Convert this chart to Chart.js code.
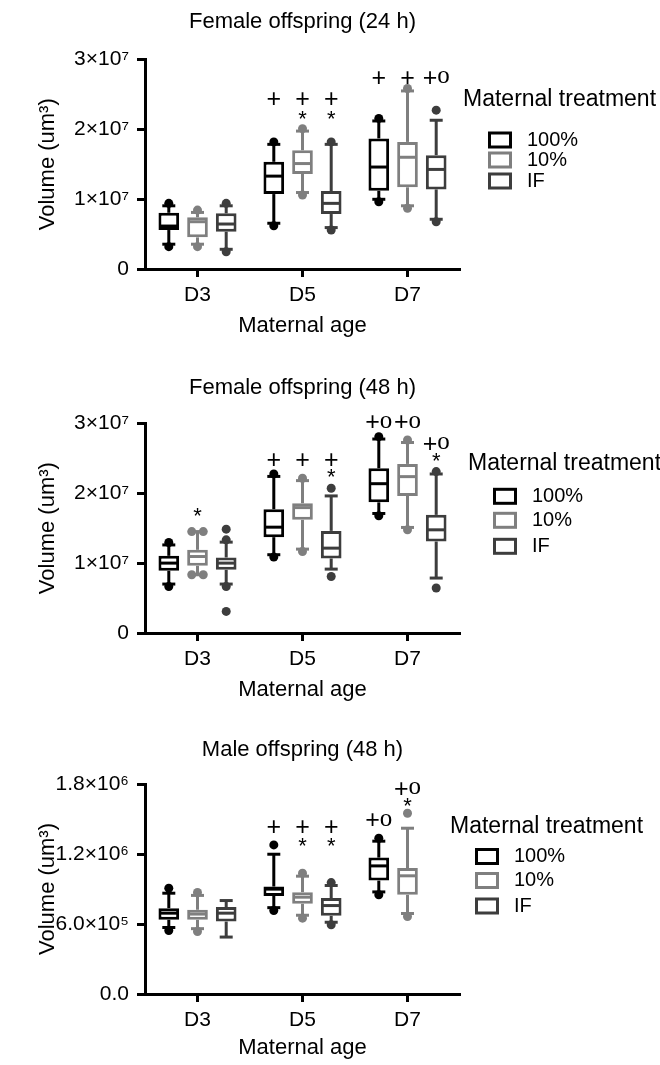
<!DOCTYPE html>
<html><head><meta charset="utf-8">
<script src="https://cdn.jsdelivr.net/npm/chart.js@4.4.1/dist/chart.umd.min.js"></script>
<style>
html,body{margin:0;padding:0;background:#fff;width:660px;height:1065px;overflow:hidden;position:relative;}
canvas{position:absolute;left:0;}
</style></head><body>
<canvas id="c1" width="660" height="341" style="top:0px"></canvas>
<canvas id="c2" width="660" height="345" style="top:360px"></canvas>
<canvas id="c3" width="660" height="346" style="top:720px"></canvas>
<script>
// ---------- DATA ----------
const categories = ['D3', 'D5', 'D7'];
const seriesNames = ['100%', '10%', 'IF'];
const legendTitle = 'Maternal treatment';
const xTitle = 'Maternal age';
const yTitle = 'Volume (um³)';
const chartTitles = ['Female offspring (24 h)', 'Female offspring (48 h)', 'Male offspring (48 h)'];

const yTicks1 = ['0', '1×10⁷', '2×10⁷', '3×10⁷'];
const yTicks2 = ['0', '1×10⁷', '2×10⁷', '3×10⁷'];
const yTicks3 = ['0.0', '6.0×10⁵', '1.2×10⁶', '1.8×10⁶'];

// box = [whisker low, Q1, median, Q3, whisker high] per category
// Female 24 h
const f24_100 = [[0.355e7,0.558e7,0.615e7,0.805e7,0.905e7],[0.655e7,1.073e7,1.33e7,1.535e7,1.785e7],[0.998e7,1.12e7,1.46e7,1.87e7,2.12e7]];
const f24_10  = [[0.355e7,0.453e7,0.677e7,0.74e7,0.81e7],[1.095e7,1.36e7,1.51e7,1.70e7,1.975e7],[0.905e7,1.17e7,1.60e7,1.82e7,2.55e7]];
const f24_IF  = [[0.282e7,0.534e7,0.644e7,0.797e7,0.905e7],[0.593e7,0.787e7,0.94e7,1.116e7,1.785e7],[0.712e7,1.14e7,1.426e7,1.63e7,2.13e7]];
const f24_100_pts = [[0.94e7,0.32e7],[1.82e7,0.62e7],[2.156e7,0.963e7]];
const f24_10_pts  = [[0.844e7,0.32e7],[2.01e7,1.06e7],[2.585e7,0.87e7]];
const f24_IF_pts  = [[0.94e7,0.247e7],[1.82e7,0.558e7],[2.275e7,0.677e7]];
const f24_100_marks = [[],[['+',2.446e7]],[['+',2.747e7]]];
const f24_10_marks  = [[],[['+',2.446e7],['*',2.203e7]],[['+',2.747e7]]];
const f24_IF_marks  = [[],[['+',2.446e7],['*',2.203e7]],[['+o',2.747e7]]];

// Female 48 h
const f48_100 = [[0.70e7,0.89e7,1.0e7,1.104e7,1.26e7],[1.12e7,1.371e7,1.514e7,1.771e7,2.24e7],[1.71e7,1.869e7,2.136e7,2.357e7,2.775e7]];
const f48_10  = [[0.833e7,0.961e7,1.094e7,1.19e7,1.451e7],[1.20e7,1.619e7,1.794e7,1.857e7,2.18e7],[1.51e7,1.961e7,2.237e7,2.419e7,2.725e7]];
const f48_IF  = [[0.70e7,0.904e7,1.0e7,1.08e7,1.30e7],[0.914e7,1.066e7,1.214e7,1.461e7,1.961e7],[0.786e7,1.309e7,1.476e7,1.69e7,2.275e7]];
const f48_100_pts = [[1.294e7,0.666e7],[2.276e7,1.086e7],[2.809e7,1.676e7]];
const f48_10_pts  = [[1.451e7,1.451e7,0.833e7,0.833e7],[2.214e7,1.166e7],[2.761e7,1.476e7]];
const f48_IF_pts  = [[1.486e7,1.333e7,0.666e7,0.309e7],[2.071e7,0.809e7],[2.309e7,0.643e7]];
const f48_100_marks = [[],[['+',2.486e7]],[['+o',3.023e7]]];
const f48_10_marks  = [[['*',1.737e7]],[['+',2.486e7]],[['+o',3.023e7]]];
const f48_IF_marks  = [[],[['+',2.486e7],['*',2.294e7]],[['+o',2.714e7],['*',2.523e7]]];

// Male 48 h
const m48_100 = [[5.70e5,6.36e5,6.93e5,7.36e5,8.64e5],[7.40e5,8.41e5,8.99e5,9.21e5,11.98e5],[8.75e5,9.72e5,10.98e5,11.69e5,13.10e5]];
const m48_10  = [[5.60e5,6.36e5,6.85e5,7.22e5,8.45e5],[6.75e5,7.73e5,8.30e5,8.73e5,10.10e5],[6.90e5,8.50e5,10.13e5,10.79e5,14.21e5]];
const m48_IF  = [[4.88e5,6.21e5,6.93e5,7.45e5,8.01e5],[6.15e5,6.70e5,7.58e5,8.22e5,9.30e5],null];
const m48_100_pts = [[9.07e5,5.44e5],[12.78e5,7.16e5],[13.35e5,8.50e5]];
const m48_10_pts  = [[8.70e5,5.36e5],[10.36e5,6.50e5],[15.49e5,6.64e5]];
const m48_IF_pts  = [[],[9.55e5,5.93e5],[]];
const m48_100_marks = [[],[['+',14.35e5]],[['+o',14.92e5]]];
const m48_10_marks  = [[],[['+',14.35e5],['*',13.06e5]],[['+o',17.63e5],['*',16.49e5]]];
const m48_IF_marks  = [[],[['+',14.35e5],['*',13.06e5]],[]];

// ---------- STYLE ----------
const colors = ['#000000', '#7f7f7f', '#3d3d3d'];
const SANS = "'Liberation Sans', Arial, Helvetica, sans-serif";
const SERIF = "'Liberation Serif', 'Times New Roman', serif";
Chart.defaults.font.family = SANS;
Chart.defaults.color = '#000';

function px(ctx, x1, y1, x2, y2) { ctx.beginPath(); ctx.moveTo(x1, y1); ctx.lineTo(x2, y2); ctx.stroke(); }

function drawMark(ctx, text, cx, cy) {
  const parts = [...text].map(ch => ({ ch, font: ch === 'o' ? '25px ' + SERIF : (ch === '+' ? '25px ' : '22px ') + SANS }));
  let total = 0;
  parts.forEach(p => { ctx.font = p.font; p.m = ctx.measureText(p.ch); total += p.m.width; });
  let x = cx - total / 2;
  ctx.textAlign = 'left'; ctx.textBaseline = 'alphabetic'; ctx.fillStyle = '#000';
  parts.forEach(p => {
    ctx.font = p.font;
    const base = cy + (p.m.actualBoundingBoxAscent - p.m.actualBoundingBoxDescent) / 2;
    ctx.fillText(p.ch, x, base);
    x += p.m.width;
  });
}

const boxPlugin = {
  id: 'boxExtras',
  afterDatasetsDraw(chart) {
    const ctx = chart.ctx, ys = chart.scales.y;
    chart.data.datasets.forEach((ds, di) => {
      const meta = chart.getDatasetMeta(di);
      meta.data.forEach((el, i) => {
        const b = ds.boxes[i];
        if (!b) return;
        const x = el.x, w = el.width;
        const yLo = ys.getPixelForValue(b[0]), yQ1 = ys.getPixelForValue(b[1]), yMed = ys.getPixelForValue(b[2]),
              yQ3 = ys.getPixelForValue(b[3]), yHi = ys.getPixelForValue(b[4]);
        ctx.save();
        ctx.strokeStyle = ds.borderColor; ctx.fillStyle = ds.borderColor; ctx.lineWidth = 3; ctx.lineCap = 'butt';
        px(ctx, x, yQ3, x, yHi);
        px(ctx, x, yQ1, x, yLo);
        px(ctx, x - 6.5, yHi, x + 6.5, yHi);
        px(ctx, x - 6.5, yLo, x + 6.5, yLo);
        px(ctx, x - w / 2 + 1.5, yMed, x + w / 2 - 1.5, yMed);
        // tied values are spread side by side, as in the original
        const pts = ds.points[i] || [];
        const counts = {};
        pts.forEach(v => { counts[v] = (counts[v] || 0) + 1; });
        const seen = {};
        pts.forEach(v => {
          const n = counts[v], k = (seen[v] = (seen[v] || 0) + 1) - 1;
          const dx = n > 1 ? (k - (n - 1) / 2) * 11.5 : 0;
          ctx.beginPath(); ctx.arc(x + dx, ys.getPixelForValue(v), 4.5, 0, Math.PI * 2); ctx.fill();
        });
        ctx.restore();
      });
    });
  },
  afterDraw(chart, args, opts) {
    const ctx = chart.ctx, ys = chart.scales.y, top = chart.chartArea.top;
    ctx.save();
    chart.data.datasets.forEach((ds, di) => {
      const meta = chart.getDatasetMeta(di);
      meta.data.forEach((el, i) => {
        (ds.marks[i] || []).forEach(m => drawMark(ctx, m[0], el.x, ys.getPixelForValue(m[1])));
      });
    });
    // legend
    ctx.fillStyle = '#000'; ctx.textAlign = 'left'; ctx.textBaseline = 'middle';
    ctx.font = '23px ' + SANS;
    ctx.fillText(legendTitle, opts.x, top + opts.titleDy);
    chart.data.datasets.forEach((ds, i) => {
      const cy = top + opts.rowDy[i];
      ctx.strokeStyle = ds.borderColor; ctx.lineWidth = 3;
      ctx.strokeRect(opts.x + 25 + 1.5, cy - 8.5 + 1.5, 24 - 3, 17 - 3);
      ctx.fillStyle = '#000'; ctx.font = '20px ' + SANS;
      ctx.fillText(seriesNames[i], opts.x + 64, cy);
    });
    ctx.restore();
  }
};

function makeChart(id, cfg) {
  const datasets = cfg.series.map((s, i) => ({
    label: seriesNames[i],
    data: s.boxes.map(b => b ? [b[1], b[3]] : null),
    boxes: s.boxes, points: s.points, marks: s.marks,
    backgroundColor: '#ffffff', borderColor: colors[i], borderWidth: 3, borderSkipped: false,
    categoryPercentage: 0.82, barPercentage: 0.72
  }));
  return new Chart(document.getElementById(id), {
    type: 'bar',
    data: { labels: categories, datasets },
    plugins: [boxPlugin],
    options: {
      responsive: false, animation: false, events: [],
      layout: { padding: { left: 0, right: 200, top: 0, bottom: 0 } },
      plugins: {
        legend: { display: false }, tooltip: { enabled: false },
        title: { display: true, text: cfg.title, fullSize: false, color: '#000',
                 font: { size: 22, weight: 'normal' }, padding: cfg.titlePad },
        boxExtras: cfg.legend
      },
      scales: {
        x: {
          grid: { display: true, drawOnChartArea: false, drawTicks: true, tickLength: 8, tickWidth: 3, tickColor: '#000', offset: false },
          border: { display: true, color: '#000', width: 3 },
          ticks: { font: { size: 21 }, color: '#000', padding: 6 },
          title: { display: true, text: xTitle, font: { size: 22 }, color: '#000', padding: { top: 0, bottom: cfg.xTitlePad } },
          afterFit(scale) { scale.height = 72; }
        },
        y: {
          min: 0, max: cfg.max,
          grid: { display: true, drawOnChartArea: false, drawTicks: true, tickLength: 8, tickWidth: 3, tickColor: '#000' },
          border: { display: true, color: '#000', width: 3 },
          ticks: { stepSize: cfg.max / 3, font: { size: 21 }, color: '#000', padding: 8,
                   callback: (v, i) => cfg.ticks[i] },
          title: { display: true, text: yTitle, font: { size: 22 }, color: '#000', padding: { top: 34.3, bottom: 0 } },
          afterFit(scale) { scale.width = 145; }
        }
      }
    }
  });
}

makeChart('c1', {
  title: chartTitles[0], max: 3e7, ticks: yTicks1, titlePad: { top: 8.5, bottom: 24.6 }, xTitlePad: 2,
  legend: { x: 463, titleDy: 40.5, rowDy: [80.5, 100.5, 121.5] },
  series: [
    { boxes: f24_100, points: f24_100_pts, marks: f24_100_marks },
    { boxes: f24_10, points: f24_10_pts, marks: f24_10_marks },
    { boxes: f24_IF, points: f24_IF_pts, marks: f24_IF_marks }
  ]
});
makeChart('c2', {
  title: chartTitles[1], max: 3e7, ticks: yTicks2, titlePad: { top: 14.5, bottom: 22.4 }, xTitlePad: 2,
  legend: { x: 468, titleDy: 40, rowDy: [73, 97, 123] },
  series: [
    { boxes: f48_100, points: f48_100_pts, marks: f48_100_marks },
    { boxes: f48_10, points: f48_10_pts, marks: f48_10_marks },
    { boxes: f48_IF, points: f48_IF_pts, marks: f48_IF_marks }
  ]
});
makeChart('c3', {
  title: chartTitles[2], max: 1.8e6, ticks: yTicks3, titlePad: { top: 16.8, bottom: 20.8 }, xTitlePad: 5,
  legend: { x: 450, titleDy: 42.7, rowDy: [72.5, 96.5, 122] },
  series: [
    { boxes: m48_100, points: m48_100_pts, marks: m48_100_marks },
    { boxes: m48_10, points: m48_10_pts, marks: m48_10_marks },
    { boxes: m48_IF, points: m48_IF_pts, marks: m48_IF_marks }
  ]
});
</script>
</body></html>
